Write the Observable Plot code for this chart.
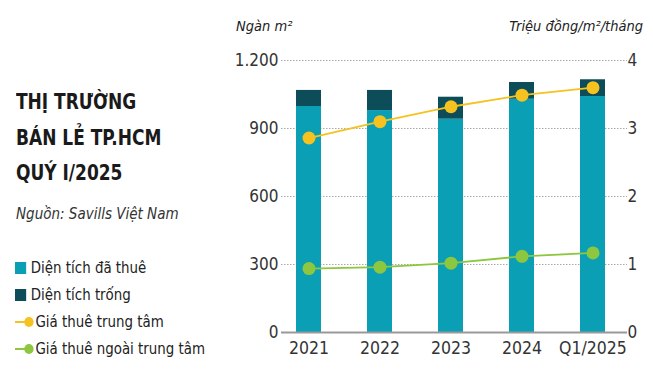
<!DOCTYPE html>
<html>
<head>
<meta charset="utf-8">
<script src="https://cdn.jsdelivr.net/npm/d3@7"></script>
<script src="https://cdn.jsdelivr.net/npm/@observablehq/plot@0.6"></script>
<style>
  html, body { margin: 0; padding: 0; background: #fff; }
  #wrap { position: relative; width: 653px; height: 388px; overflow: hidden;
          font-family: "Liberation Sans Narrow", "DejaVu Sans Condensed", "Roboto", sans-serif; color: #222; }
  #chart { position: absolute; left: 0; top: 0; }
  #title { position: absolute; left: 16px; top: 84px; font-size: 22px; font-weight: bold;
           line-height: 35.5px; color: #1a1a1a; transform: scaleX(0.86); transform-origin: left top; white-space: nowrap; }
  #source { position: absolute; left: 16px; top: 205px; font-size: 15px; font-style: italic; color: #333; }
  #legend { position: absolute; left: 15px; top: 254px; font-size: 16px; color: #222;
            transform: scaleX(0.93); transform-origin: left top; white-space: nowrap; }
  .row { height: 27px; display: flex; align-items: center; }
  .sw { width: 12px; height: 12px; margin-right: 5px; }
  .ln { position: relative; width: 19px; height: 12px; margin-right: 3px; }
  .ln .l { position: absolute; left: 0; top: 5px; width: 14px; height: 2px; }
  .ln .d { position: absolute; left: 10px; top: 1px; width: 10px; height: 10px; border-radius: 50%; }
  .unit { position: absolute; top: 18px; font-size: 14.5px; font-style: italic; color: #222; }
</style>
</head>
<body>
<div id="wrap">
  <div id="chart"></div>
  <div id="title">THỊ TRƯỜNG<br>BÁN LẺ TP.HCM<br>QUÝ I/2025</div>
  <div id="source">Nguồn: Savills Việt Nam</div>
  <div id="legend"></div>
  <div class="unit" style="left:236px">Ngàn m²</div>
  <div class="unit" style="right:10px">Triệu đồng/m²/tháng</div>
</div>
<script>
// Data
const periods = ["2021", "2022", "2023", "2024", "Q1/2025"];
const leased = [997, 979, 941, 1029, 1041];          // Diện tích đã thuê (ngàn m²)
const vacant = [71, 89, 97, 74, 74];                 // Diện tích trống (ngàn m²)
const rentCentral = [2.86, 3.10, 3.32, 3.49, 3.60];  // Giá thuê trung tâm (triệu đồng/m²/tháng)
const rentOuter = [0.94, 0.96, 1.02, 1.12, 1.17];    // Giá thuê ngoài trung tâm
const leftTicks = [0, 300, 600, 900, 1200];
const rightTicks = [0, 1, 2, 3, 4];
const seriesNames = ["Diện tích đã thuê", "Diện tích trống", "Giá thuê trung tâm", "Giá thuê ngoài trung tâm"];

const colors = {leased: "#0b9fb6", vacant: "#0d4c59", central: "#f6c21f", outer: "#8dc63f"};
const ratio = 300; // 1 triệu đồng on right axis = 300 ngàn m² on left axis

const barData = [];
periods.forEach((p, i) => {
  barData.push({period: p, series: seriesNames[0], value: leased[i]});
  barData.push({period: p, series: seriesNames[1], value: vacant[i]});
});
const central = periods.map((p, i) => ({period: p, v: rentCentral[i] * ratio}));
const outer = periods.map((p, i) => ({period: p, v: rentOuter[i] * ratio}));
const fmt = d => d3.format(",")(d).replace(/,/g, ".");

const plot = Plot.plot({
  width: 653,
  height: 388,
  marginLeft: 281,
  marginRight: 26,
  marginTop: 60,
  marginBottom: 56,
  style: {fontFamily: '"Liberation Sans Narrow", "DejaVu Sans Condensed", sans-serif', background: "transparent"},
  x: {domain: periods, range: [272.4, 628.6], paddingInner: 0.65, paddingOuter: 0.325, label: null},
  y: {domain: [0, 1200], label: null},
  color: {domain: seriesNames.slice(0, 2), range: [colors.leased, colors.vacant]},
  marks: [
    Plot.ruleY(leftTicks.slice(1), {stroke: "#aaa", strokeDasharray: "1.5,1.5", strokeWidth: 1}),
    Plot.barY(barData, Plot.stackY({x: "period", y: "value", fill: "series", order: seriesNames})),
    Plot.ruleY([0], {stroke: "#999", strokeWidth: 2}),
    Plot.line(central, {x: "period", y: "v", stroke: colors.central, strokeWidth: 1.8}),
    Plot.dot(central, {x: "period", y: "v", r: 6.5, fill: colors.central}),
    Plot.line(outer, {x: "period", y: "v", stroke: colors.outer, strokeWidth: 1.8}),
    Plot.dot(outer, {x: "period", y: "v", r: 6.5, fill: colors.outer}),
    Plot.axisX({ticks: periods, tickSize: 0, tickPadding: 9, fontSize: 17.5, fill: "#333", label: null}),
    Plot.axisY({ticks: leftTicks, tickSize: 0, tickPadding: 3, fontSize: 17, fill: "#333", tickFormat: fmt, label: null}),
    Plot.axisY({anchor: "right", ticks: rightTicks.map(t => t * ratio), tickSize: 0, tickPadding: 0,
                fontSize: 17, fill: "#333", tickFormat: d => String(d / ratio), label: null})
  ]
});
document.getElementById("chart").appendChild(plot);

// Legend (HTML)
const leg = document.getElementById("legend");
const legItems = [
  {name: seriesNames[0], type: "sq", c: colors.leased},
  {name: seriesNames[1], type: "sq", c: colors.vacant},
  {name: seriesNames[2], type: "ln", c: colors.central},
  {name: seriesNames[3], type: "ln", c: colors.outer}
];
legItems.forEach(it => {
  const row = document.createElement("div");
  row.className = "row";
  if (it.type === "sq") {
    row.innerHTML = `<div class="sw" style="background:${it.c}"></div><span>${it.name}</span>`;
  } else {
    row.innerHTML = `<div class="ln"><div class="l" style="background:${it.c}"></div><div class="d" style="background:${it.c}"></div></div><span>${it.name}</span>`;
  }
  leg.appendChild(row);
});
</script>
</body>
</html>
